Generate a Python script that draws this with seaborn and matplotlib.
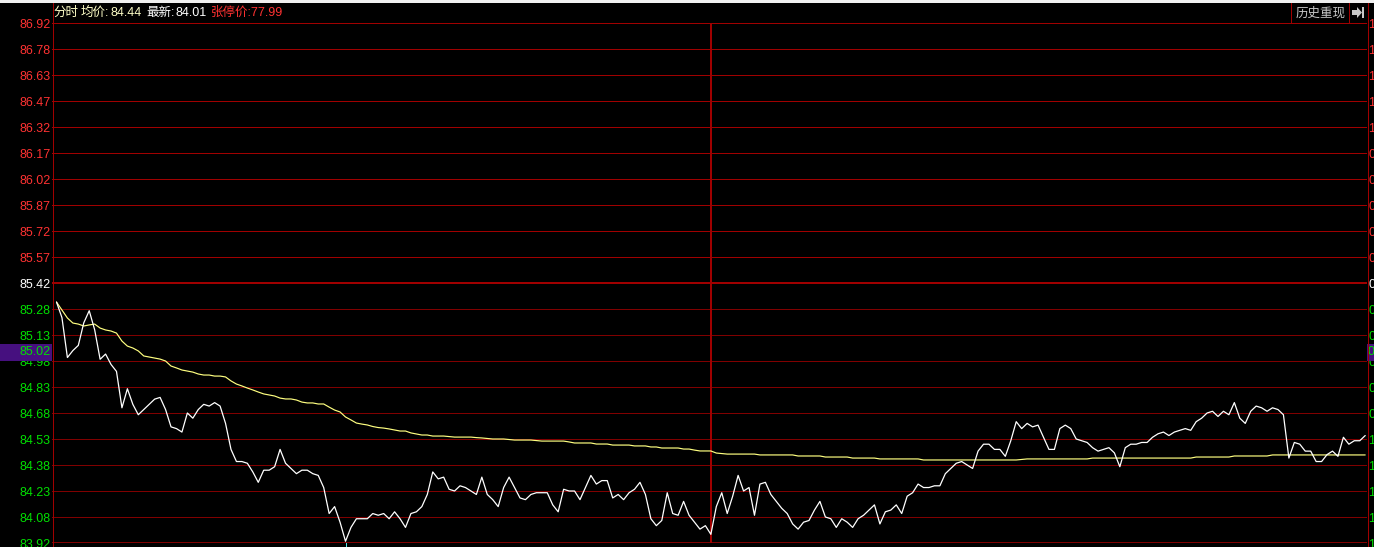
import pandas as pd
import numpy as np
import matplotlib
matplotlib.use("Agg")
import matplotlib.pyplot as plt
import seaborn as sns
from matplotlib.patches import Rectangle, Polygon
from matplotlib.lines import Line2D

# ---------------------------------
# Data
# ---------------------------------

LAST_PRICE = [
    85.31, 85.22, 84.99, 85.03, 85.06, 85.19, 85.26, 85.15, 84.98, 85.01,
    84.95, 84.91, 84.70, 84.81, 84.72, 84.66, 84.69, 84.72, 84.75, 84.76,
    84.69, 84.59, 84.58, 84.56, 84.67, 84.64, 84.69, 84.72, 84.71, 84.73,
    84.71, 84.61, 84.46, 84.39, 84.39, 84.38, 84.33, 84.27, 84.34, 84.34,
    84.36, 84.46, 84.38, 84.35, 84.32, 84.34, 84.34, 84.32, 84.31, 84.24,
    84.09, 84.13, 84.04, 83.93, 84.01, 84.06, 84.06, 84.06, 84.09, 84.08,
    84.09, 84.06, 84.10, 84.06, 84.01, 84.09, 84.10, 84.13, 84.20, 84.33,
    84.29, 84.30, 84.23, 84.22, 84.25, 84.24, 84.22, 84.20, 84.30, 84.20,
    84.17, 84.13, 84.24, 84.30, 84.24, 84.18, 84.17, 84.20, 84.21, 84.21,
    84.21, 84.14, 84.10, 84.23, 84.22, 84.22, 84.17, 84.24, 84.31, 84.26,
    84.28, 84.28, 84.18, 84.20, 84.17, 84.21, 84.23, 84.27, 84.20, 84.06,
    84.02, 84.05, 84.21, 84.09, 84.08, 84.16, 84.08, 84.04, 84.00, 84.02,
    83.97, 84.13, 84.21, 84.09, 84.19, 84.31, 84.22, 84.24, 84.08, 84.26,
    84.27, 84.20, 84.16, 84.12, 84.09, 84.03, 84.00, 84.04, 84.05, 84.11,
    84.16, 84.07, 84.06, 84.01, 84.06, 84.04, 84.01, 84.06, 84.08, 84.11,
    84.14, 84.03, 84.10, 84.11, 84.14, 84.09, 84.19, 84.21, 84.26, 84.24,
    84.24, 84.25, 84.25, 84.32, 84.35, 84.38, 84.39, 84.37, 84.35, 84.45,
    84.49, 84.49, 84.46, 84.46, 84.42, 84.51, 84.62, 84.58, 84.61, 84.59,
    84.60, 84.53, 84.46, 84.46, 84.58, 84.60, 84.58, 84.52, 84.51, 84.50,
    84.47, 84.45, 84.46, 84.47, 84.44, 84.36, 84.47, 84.49, 84.49, 84.50,
    84.50, 84.53, 84.55, 84.56, 84.54, 84.56, 84.57, 84.58, 84.57, 84.62,
    84.64, 84.67, 84.68, 84.65, 84.68, 84.66, 84.73, 84.64, 84.61, 84.68,
    84.71, 84.70, 84.68, 84.70, 84.69, 84.66, 84.41, 84.50, 84.49, 84.45,
    84.45, 84.39, 84.39, 84.43, 84.45, 84.42, 84.53, 84.49, 84.51, 84.51,
    84.54,
]

AVG_PRICE = [
    85.310, 85.264, 85.218, 85.189, 85.183, 85.172, 85.178, 85.183, 85.160, 85.149,
    85.143, 85.131, 85.085, 85.056, 85.045, 85.028, 84.999, 84.993, 84.987, 84.981,
    84.970, 84.941, 84.930, 84.918, 84.912, 84.906, 84.895, 84.889, 84.889, 84.883,
    84.883, 84.878, 84.855, 84.837, 84.826, 84.814, 84.803, 84.791, 84.780, 84.774,
    84.768, 84.756, 84.751, 84.751, 84.745, 84.733, 84.728, 84.728, 84.722, 84.722,
    84.704, 84.687, 84.676, 84.647, 84.630, 84.612, 84.606, 84.601, 84.592, 84.586,
    84.583, 84.578, 84.572, 84.566, 84.566, 84.555, 84.549, 84.543, 84.543, 84.537,
    84.537, 84.537, 84.534, 84.531, 84.531, 84.531, 84.531, 84.528, 84.526, 84.523,
    84.520, 84.520, 84.520, 84.517, 84.514, 84.514, 84.514, 84.514, 84.511, 84.508,
    84.508, 84.508, 84.508, 84.508, 84.503, 84.497, 84.497, 84.497, 84.497, 84.491,
    84.491, 84.491, 84.485, 84.485, 84.485, 84.485, 84.480, 84.480, 84.480, 84.474,
    84.474, 84.468, 84.468, 84.468, 84.468, 84.462, 84.462, 84.456, 84.451, 84.451,
    84.451, 84.439, 84.436, 84.433, 84.433, 84.433, 84.433, 84.433, 84.433, 84.428,
    84.428, 84.428, 84.428, 84.428, 84.428, 84.428, 84.422, 84.422, 84.422, 84.422,
    84.422, 84.416, 84.416, 84.416, 84.416, 84.416, 84.410, 84.410, 84.410, 84.410,
    84.410, 84.405, 84.405, 84.405, 84.405, 84.405, 84.405, 84.405, 84.405, 84.399,
    84.399, 84.399, 84.399, 84.399, 84.399, 84.399, 84.399, 84.399, 84.399, 84.399,
    84.399, 84.399, 84.399, 84.399, 84.399, 84.399, 84.399, 84.402, 84.405, 84.405,
    84.405, 84.405, 84.405, 84.405, 84.405, 84.405, 84.405, 84.405, 84.405, 84.405,
    84.410, 84.410, 84.410, 84.410, 84.410, 84.410, 84.410, 84.410, 84.410, 84.410,
    84.410, 84.410, 84.410, 84.410, 84.410, 84.410, 84.410, 84.410, 84.410, 84.416,
    84.416, 84.416, 84.416, 84.416, 84.416, 84.416, 84.422, 84.422, 84.422, 84.422,
    84.422, 84.422, 84.422, 84.428, 84.428, 84.428, 84.428, 84.428, 84.428, 84.428,
    84.428, 84.428, 84.428, 84.428, 84.428, 84.428, 84.428, 84.428, 84.428, 84.428,
    84.428,
]

GRID_LEVELS = [
    86.92, 86.77, 86.62, 86.47, 86.32, 86.17, 86.02, 85.87, 85.72, 85.57, 85.42,
    85.27, 85.12, 84.97, 84.82, 84.67, 84.52, 84.37, 84.22, 84.07, 83.92,
]

PRICE_LABELS = [
    "86.92", "86.78", "86.63", "86.47", "86.32", "86.17", "86.02", "85.87", "85.72", "85.57", "85.42",
    "85.28", "85.13", "84.98", "84.83", "84.68", "84.53", "84.38", "84.23", "84.08", "83.92",
]

PERCENT_LABELS = [
    "1.76%", "1.58%", "1.40%", "1.23%", "1.05%", "0.88%", "0.70%", "0.53%", "0.35%", "0.18%", "0.00%",
    "0.18%", "0.35%", "0.53%", "0.70%", "0.88%", "1.05%", "1.23%", "1.40%", "1.58%", "1.76%",
]

PREV_CLOSE = 85.42
CURRENT_LABEL = 85.02
CURRENT_PERCENT = "0.47%"
MID_MINUTE = 120
VOLUME_MINUTE = 53

# ---------------------------------
# Style
# ---------------------------------

BLACK = "#000000"
GRID = "#a00000"
GRID_LOW = "#800000"
RED = "#ff3232"
GREEN = "#00e000"
WHITE = "#ffffff"
PALE = "#ffffc8"
YELLOW = "#ffff80"
PURPLE = "#46107f"
BUTTON = "#c8c8c8"
CYAN = "#50e6e6"

W, H = 1374, 547
LEFT, RIGHT, TOP, BOTTOM = 52, 1367, 23, 543
FONT = 12.5 * 0.72

sns.set_theme(style="dark", rc={"axes.facecolor": BLACK, "figure.facecolor": BLACK})
plt.rcParams["font.family"] = ["Liberation Sans", "Noto Sans CJK SC", "DejaVu Sans"]


def label_color(level):
    if level > PREV_CLOSE:
        return RED
    if level < PREV_CLOSE:
        return GREEN
    return WHITE


def fx(px):
    return px / W


def fy(px):
    return 1 - px / H


# ---------------------------------
# Chart
# ---------------------------------

fig = plt.figure(figsize=(W / 100, H / 100), dpi=100)
ax = fig.add_axes([fx(LEFT), fy(BOTTOM), fx(RIGHT - LEFT), (BOTTOM - TOP) / H])

for level in GRID_LEVELS:
    thick = level == PREV_CLOSE or level == GRID_LEVELS[-1]
    color = GRID if level >= PREV_CLOSE else GRID_LOW
    ax.axhline(level, color=color, lw=1.44 if thick else 0.72, antialiased=False, zorder=1)
ax.axvline(MID_MINUTE, color=GRID, lw=1.44, antialiased=False, zorder=1)

df = pd.DataFrame({
    "minute": np.arange(len(LAST_PRICE)),
    "last": LAST_PRICE,
    "avg": AVG_PRICE,
})

sns.lineplot(data=df, x="minute", y="avg", color=YELLOW, lw=0.85, errorbar=None, ax=ax, zorder=3)
sns.lineplot(data=df, x="minute", y="last", color=WHITE, lw=0.9, errorbar=None, ax=ax, zorder=4)

ax.set_xlim(-4.5 / 5.453, (RIGHT - 56.5) / 5.453)
ax.set_ylim(GRID_LEVELS[-1], GRID_LEVELS[0])
ax.set_xlabel("")
ax.set_ylabel("")
ax.set_xticks([])
ax.grid(False)
for spine in ax.spines.values():
    spine.set_visible(False)

ax.set_yticks(GRID_LEVELS)
ax.set_yticklabels(PRICE_LABELS, fontsize=FONT)
ax.tick_params(axis="y", length=0, pad=1)
for tick, level in zip(ax.get_yticklabels(), GRID_LEVELS):
    tick.set_color(label_color(level))

# stub of the volume panel under the chart
ax.plot([VOLUME_MINUTE, VOLUME_MINUTE], [0, -4 / 520], transform=ax.get_xaxis_transform(),
        color=CYAN, lw=0.72, antialiased=False, clip_on=False, zorder=2)

# right side percent labels run off the edge of the window
ax2 = ax.twinx()
ax2.set_ylim(ax.get_ylim())
ax2.grid(False)
for spine in ax2.spines.values():
    spine.set_visible(False)
ax2.set_yticks(GRID_LEVELS)
ax2.set_yticklabels(PERCENT_LABELS, fontsize=FONT)
ax2.tick_params(axis="y", length=0, pad=1)
for tick, level in zip(ax2.get_yticklabels(), GRID_LEVELS):
    tick.set_color(label_color(level))

# current price flags
box_h = 17 / 520 * (GRID_LEVELS[0] - GRID_LEVELS[-1])
ax2.add_patch(Rectangle((-LEFT / (RIGHT - LEFT), CURRENT_LABEL - box_h / 2), LEFT / (RIGHT - LEFT), box_h,
                        transform=ax2.get_yaxis_transform(), color=PURPLE, clip_on=False, zorder=5, lw=0))
ax2.add_patch(Rectangle((1.0, CURRENT_LABEL - box_h / 2), 8 / (RIGHT - LEFT), box_h,
                        transform=ax2.get_yaxis_transform(), color=PURPLE, clip_on=False, zorder=5, lw=0))
ax2.text(-1 / (RIGHT - LEFT), CURRENT_LABEL, f"{CURRENT_LABEL:.2f}", transform=ax2.get_yaxis_transform(),
         ha="right", va="center", color=GREEN, fontsize=FONT, zorder=6, clip_on=False)
ax2.text(1 + 1 / (RIGHT - LEFT), CURRENT_LABEL, CURRENT_PERCENT, transform=ax2.get_yaxis_transform(),
         ha="left", va="center", color=GREEN, fontsize=FONT, zorder=6, clip_on=False)

# ---------------------------------
# Window frame and header
# ---------------------------------

fig.add_artist(Rectangle((0, fy(3)), 1, 3 / H, transform=fig.transFigure, color="#f0f0f0", lw=0, zorder=10))
for px in [LEFT, RIGHT]:
    fig.add_artist(Line2D([fx(px + 0.5)] * 2, [fy(3), 0], transform=fig.transFigure, color=GRID, lw=0.72,
                          antialiased=False, zorder=9))

header = [
    (53, "分时", PALE),
    (81, "均价:", PALE),
    (111, "84.44", PALE),
    (146, "最新:", WHITE),
    (176, "84.01", WHITE),
    (211, "张停价:77.99", RED),
]
for px, text, color in header:
    fig.text(fx(px), fy(13), text, color=color, fontsize=FONT, ha="left", va="center", zorder=11)

# history replay button
fig.add_artist(Line2D([fx(1290.5)] * 2, [fy(3), fy(TOP)], transform=fig.transFigure, color=GRID, lw=0.72,
                      antialiased=False, zorder=9))
fig.add_artist(Line2D([fx(1348.5)] * 2, [fy(3), fy(TOP)], transform=fig.transFigure, color=GRID, lw=0.72,
                      antialiased=False, zorder=9))
fig.text(fx(1321), fy(13), "历史重现", color=BUTTON, fontsize=FONT, ha="center", va="center", zorder=11)
arrow = [(1352, 10), (1357, 10), (1357, 7), (1362, 12.5), (1357, 18), (1357, 15), (1352, 15)]
fig.add_artist(Polygon([(fx(x), fy(y)) for x, y in arrow], closed=True, transform=fig.transFigure,
                       color=BUTTON, lw=0, zorder=11))
fig.add_artist(Rectangle((fx(1362), fy(18)), 2 / W, 11 / H, transform=fig.transFigure, color=BUTTON, lw=0, zorder=11))

fig.savefig("out.png", dpi=100, facecolor=BLACK)
